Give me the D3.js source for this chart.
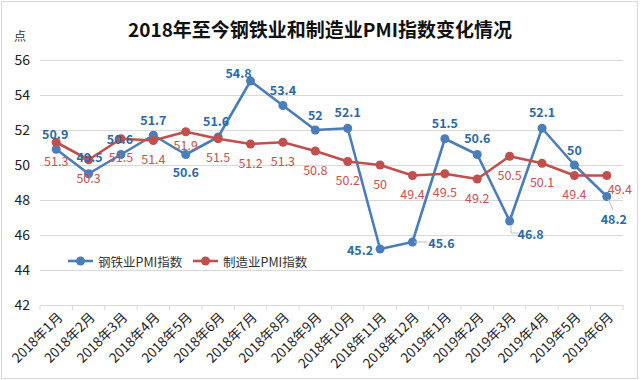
<!DOCTYPE html>
<html><head><meta charset="utf-8">
<script src="https://cdn.jsdelivr.net/npm/d3@7"></script>
<style>
html,body{margin:0;padding:0;background:#fff;}
svg{display:block;}
text{font-family:"Noto Sans CJK SC","Noto Sans",sans-serif;}
</style></head>
<body><svg id="c" width="640" height="380"></svg>
<script>
const categories = ["2018年1月","2018年2月","2018年3月","2018年4月","2018年5月","2018年6月","2018年7月","2018年8月","2018年9月","2018年10月","2018年11月","2018年12月","2019年1月","2019年2月","2019年3月","2019年4月","2019年5月","2019年6月"];
const steelPMI = [50.9,49.5,50.6,51.7,50.6,51.6,54.8,53.4,52,52.1,45.2,45.6,51.5,50.6,46.8,52.1,50,48.2];
const mfgPMI = [51.3,50.3,51.5,51.4,51.9,51.5,51.2,51.3,50.8,50.2,50,49.4,49.5,49.2,50.5,50.1,49.4,49.4];
const yTicks = [42,44,46,48,50,52,54,56];
const seriesNames = ["钢铁业PMI指数","制造业PMI指数"];
const title = "2018年至今钢铁业和制造业PMI指数变化情况";
const yUnit = "点";

// label placement (styling, not data)
const steelLabelPos = [[-1,-16],[1,-17],[-1,-16],[0,-16],[0,17],[-2,-17],[-12,-9],[0,-16],[0,-16],[0,-17],[-20,0],[29,0],[0,-16],[0,-17],[21,12],[0,-17],[0,-16],[7,22]];
const mfgLabelPos = categories.map(()=>[0,18]);
mfgLabelPos[4]=[0,13]; mfgLabelPos[17]=[13,13];

const svg = d3.select("#c");
const blue = "#4a7ebb", blueText = "#2a6aa6", red = "#c0504d", redText = "#c8524f";

// outer border
svg.append("rect").attr("x",1.5).attr("y",1.5).attr("width",636).attr("height",377)
  .attr("fill","#fff").attr("stroke","#d9d9d9").attr("stroke-width",1);

const x = d3.scaleBand().domain(categories).range([40,623]);
const y = d3.scaleLinear().domain([42,56]).range([305,60]);
const cx = c => x(c) + x.bandwidth()/2;

// title
svg.append("text").attr("x",320).attr("y",37).attr("text-anchor","middle")
  .attr("font-size",19).attr("font-weight","bold").attr("fill","#111").text(title);
svg.append("text").attr("x",20).attr("y",41).attr("text-anchor","middle")
  .attr("font-size",12).attr("fill","#333").text(yUnit);

// grid + y labels
const yAxis = d3.axisLeft(y).tickValues(yTicks).tickSize(-(623-40)).tickPadding(10).tickFormat(d3.format("d"));
const gy = svg.append("g").attr("transform","translate(40,0)").call(yAxis);
gy.select(".domain").remove();
gy.selectAll(".tick line").attr("stroke","#d9d9d9");
gy.selectAll(".tick text").attr("font-size",14).attr("fill","#222")
  .attr("font-family","'Open Sans','Noto Sans',sans-serif");

// x axis tick marks at band boundaries
const boundaries = categories.map(c=>x(c)).concat([623]);
svg.append("g").selectAll("line").data(boundaries).join("line")
  .attr("x1",d=>d).attr("x2",d=>d).attr("y1",305).attr("y2",310)
  .attr("stroke","#d9d9d9");

// x labels
svg.append("g").selectAll("text").data(categories).join("text")
  .attr("transform",d=>`translate(${cx(d)+3},${314}) rotate(-45)`)
  .attr("text-anchor","end").attr("dominant-baseline","central")
  .attr("font-size",13.5).attr("fill","#222").text(d=>d);

// lines
const line = d3.line().x((d,i)=>cx(categories[i])).y(d=>y(d));
function drawSeries(vals,color){
  svg.append("path").datum(vals).attr("d",line).attr("fill","none")
    .attr("stroke",color).attr("stroke-width",2.6).attr("stroke-linejoin","round");
  svg.append("g").selectAll("circle").data(vals).join("circle")
    .attr("cx",(d,i)=>cx(categories[i])).attr("cy",d=>y(d)).attr("r",4.5).attr("fill",color);
}
drawSeries(steelPMI,blue);
drawSeries(mfgPMI,red);

// leader lines for some steel labels
const leaders = [
  [[414,242],[428,242]],
  [[511,226],[511,233],[518,233]],
  [[608,199],[613,210]]
];
leaders.forEach(p=>svg.append("path").attr("d",d3.line()(p)).attr("fill","none").attr("stroke","#bfbfbf").attr("stroke-width",1));

// data labels
svg.append("g").selectAll("text").data(mfgPMI).join("text")
  .attr("x",(d,i)=>cx(categories[i])+mfgLabelPos[i][0])
  .attr("y",(d,i)=>y(d)+mfgLabelPos[i][1])
  .attr("text-anchor","middle").attr("dominant-baseline","central")
  .attr("font-size",12.5).attr("fill",redText)
  .attr("font-family","'Open Sans','Noto Sans',sans-serif").text(d=>d);
svg.append("g").selectAll("text").data(steelPMI).join("text")
  .attr("x",(d,i)=>cx(categories[i])+steelLabelPos[i][0])
  .attr("y",(d,i)=>y(d)+steelLabelPos[i][1])
  .attr("text-anchor","middle").attr("dominant-baseline","central")
  .attr("font-size",12.5).attr("font-weight","bold").attr("fill",blueText)
  .attr("font-family","'Open Sans','Noto Sans',sans-serif").text(d=>d);

// legend
const legend = svg.append("g").attr("transform","translate(68,261)");
const items = [{name:seriesNames[0],color:blue,x:0},{name:seriesNames[1],color:red,x:125}];
items.forEach(it=>{
  const g = legend.append("g").attr("transform",`translate(${it.x},0)`);
  g.append("line").attr("x1",0).attr("x2",25).attr("y1",0).attr("y2",0).attr("stroke",it.color).attr("stroke-width",2.6);
  g.append("circle").attr("cx",12.5).attr("cy",0).attr("r",4.5).attr("fill",it.color);
  g.append("text").attr("x",30).attr("y",0).attr("dominant-baseline","central")
    .attr("font-size",12.5).attr("fill","#333").text(it.name);
});
</script></body></html>
